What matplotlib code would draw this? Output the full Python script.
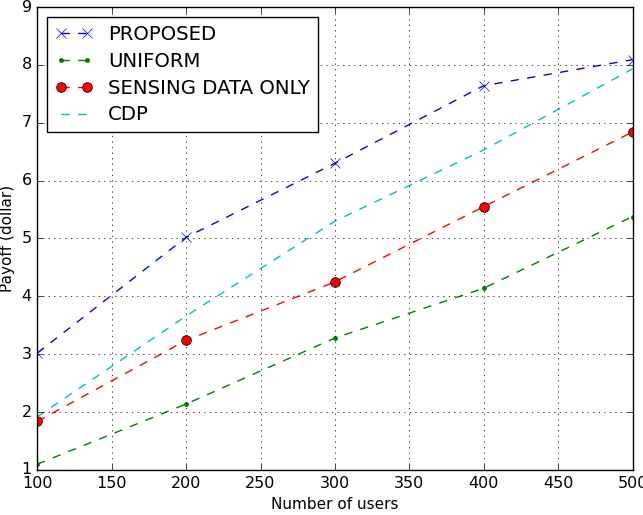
import matplotlib
matplotlib.use("Agg")
import matplotlib.pyplot as plt

# --- Data ---
users = [100, 200, 300, 400, 500]
proposed = [3.02, 5.02, 6.30, 7.64, 8.09]
uniform = [1.10, 2.14, 3.28, 4.14, 5.38]
sensing_only = [1.84, 3.24, 4.25, 5.55, 6.84]
cdp = [1.92, 3.66, 5.30, 6.53, 7.93]

plt.style.use("classic")
plt.rcParams["font.family"] = ["DejaVu Sans"]

fig = plt.figure(figsize=(6.43, 5.15), dpi=100, facecolor="white")
ax = fig.add_axes([0.058, 0.0874, 0.9257, 0.899])

ax.plot(users, proposed, "b--x", markersize=7, label="PROPOSED")
ax.plot(users, uniform, "g--.", markersize=6, label="UNIFORM")
ax.plot(users, sensing_only, "r--o", markersize=7, label="SENSING DATA ONLY")
ax.plot(users, cdp, "c--", label="CDP")

ax.set_xlim(100, 500)
ax.set_ylim(1, 9)
ax.set_xticks(range(100, 501, 50))
ax.set_yticks(range(1, 10))
ax.tick_params(labelsize=11.5)
ax.set_xlabel("Number of users", fontsize=11)
ax.set_ylabel("Payoff (dollar)", fontsize=11)
ax.grid(True)

ax.legend(loc="upper left", numpoints=2, fontsize=14.2, handlelength=1.9,
          labelspacing=0.4, borderaxespad=0.5)

fig.savefig("out.png", dpi=100, facecolor="white")
